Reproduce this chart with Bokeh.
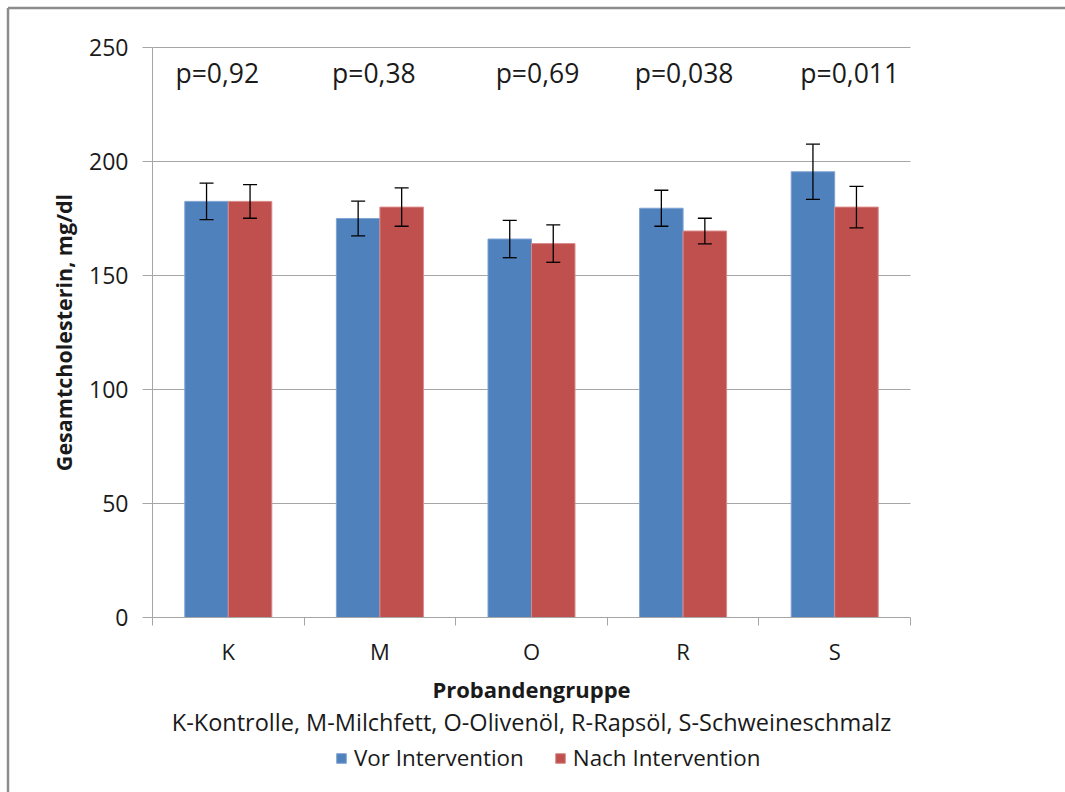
from bokeh.plotting import figure
from bokeh.models import (ColumnDataSource, FixedTicker, Whisker, TeeHead, Legend,
                          LegendItem, Label)
from bokeh.transform import dodge
from bokeh.core.properties import value
from bokeh.embed import file_html
from bokeh.resources import INLINE

# ---- data ----
groups = ["K", "M", "O", "R", "S"]
vor = [182.5, 175.0, 166.0, 179.5, 195.5]
nach = [182.5, 180.0, 164.0, 169.5, 180.0]
vor_sd = [8.0, 7.6, 8.2, 7.9, 12.1]
nach_sd = [7.4, 8.4, 8.2, 5.6, 9.1]
p_values = ["p=0,92", "p=0,38", "p=0,69", "p=0,038", "p=0,011"]
y_ticks = [0, 50, 100, 150, 200, 250]
series_names = ["Vor Intervention", "Nach Intervention"]
x_title = "Probandengruppe"
y_title = "Gesamtcholesterin, mg/dl"
subtitle = "K-Kontrolle, M-Milchfett, O-Olivenöl, R-Rapsöl, S-Schweineschmalz"

# ---- layout (pixels) ----
p_shift = [-11, -6, 6, 1, 15]
W, H = 1065, 792
PX0, PY0 = 152, 617        # page position of the data origin (x=0, y=0)
XS, YS = 151.6, 2.28       # pixels per data unit
FRAME_PX = 7.5             # outer chart frame line position


def px_x(px):
    return (px - PX0) / XS


def px_y(py):
    return (PY0 - py) / YS


FONT = "Open Sans"
BLUE = "#4F81BD"
RED = "#C0504D"
GRID = "#a6a6a6"
TXT = "#1a1a1a"

xc = [i + 0.5 for i in range(len(groups))]
src = ColumnDataSource(dict(
    x=xc, vor=vor, nach=nach,
    vor_lo=[v - s for v, s in zip(vor, vor_sd)], vor_hi=[v + s for v, s in zip(vor, vor_sd)],
    nach_lo=[v - s for v, s in zip(nach, nach_sd)], nach_hi=[v + s for v, s in zip(nach, nach_sd)],
    p=p_values, dx=p_shift,
))

p = figure(width=W, height=H, title=None,
           x_range=(px_x(0), px_x(W)), y_range=(px_y(H), px_y(0)),
           output_backend="svg", toolbar_location=None, min_border=0)
p.styles = {"box-shadow": "none", "border": "none", "outline": "none"}
p.outline_line_color = None
p.background_fill_color = "white"
p.border_fill_color = "white"

# outer chart frame (left and top edges)
p.segment(x0=[px_x(FRAME_PX), px_x(FRAME_PX)], y0=[px_y(FRAME_PX), px_y(FRAME_PX)],
          x1=[px_x(FRAME_PX), px_x(W)], y1=[px_y(H), px_y(FRAME_PX)],
          line_color="#8c8c8c", line_width=2.5)

# horizontal grid lines across the category area
p.segment(x0=[0] * (len(y_ticks) - 1), x1=[len(groups)] * (len(y_ticks) - 1),
          y0=y_ticks[1:], y1=y_ticks[1:], line_color=GRID, line_width=1, level="underlay")

bw = 0.287
r_vor = p.vbar(x=dodge("x", -bw / 2, range=p.x_range), top="vor", width=bw, source=src,
               fill_color=BLUE, line_color="#7FA3D3", line_width=1)
r_nach = p.vbar(x=dodge("x", bw / 2, range=p.x_range), top="nach", width=bw, source=src,
                fill_color=RED, line_color="#D88A88", line_width=1)

for off, lo, hi in [(-bw / 2, "vor_lo", "vor_hi"), (bw / 2, "nach_lo", "nach_hi")]:
    w = Whisker(base=dodge("x", off, range=p.x_range), lower=lo, upper=hi, source=src,
                line_color="black", line_width=1.3, level="overlay",
                lower_head=TeeHead(size=14, line_color="black", line_width=1.3),
                upper_head=TeeHead(size=14, line_color="black", line_width=1.3))
    p.add_layout(w)

p.text(x="x", y=238.6, text="p", x_offset="dx", source=src, text_align="center",
       text_baseline="middle", text_font=value(FONT), text_font_size="26.5px", text_color=TXT)

# y axis at x=0
p.yaxis.fixed_location = 0
p.yaxis.ticker = FixedTicker(ticks=y_ticks)
p.yaxis.bounds = (y_ticks[0], y_ticks[-1])
p.yaxis.axis_line_color = GRID
p.yaxis.major_tick_line_color = GRID
p.yaxis.major_tick_out = 10
p.yaxis.major_tick_in = 0
p.yaxis.minor_tick_line_color = None
p.yaxis.major_label_standoff = 14
p.yaxis.major_label_text_font = FONT
p.yaxis.major_label_text_font_size = "23px"
p.yaxis.major_label_text_color = TXT
p.yaxis.axis_label = y_title
p.yaxis.axis_label_text_font = FONT
p.yaxis.axis_label_text_font_style = "bold"
p.yaxis.axis_label_text_font_size = "21.5px"
p.yaxis.axis_label_text_color = TXT
p.yaxis.axis_label_standoff = 8

# x axis at y=0: labels at centers, ticks at boundaries
p.xaxis.fixed_location = 0
p.xaxis.ticker = FixedTicker(ticks=xc, minor_ticks=list(range(len(groups) + 1)))
p.xaxis.bounds = (0, len(groups))
p.xaxis.major_label_overrides = {x: g for x, g in zip(xc, groups)}
p.xaxis.axis_line_color = GRID
p.xaxis.major_tick_line_color = None
p.xaxis.major_tick_out = 0
p.xaxis.major_tick_in = 0
p.xaxis.minor_tick_line_color = GRID
p.xaxis.minor_tick_out = 8
p.xaxis.minor_tick_in = 0
p.xaxis.major_label_standoff = 10
p.xaxis.major_label_text_font = FONT
p.xaxis.major_label_text_font_size = "22px"
p.xaxis.major_label_text_color = TXT
p.xaxis.axis_label = x_title
p.xaxis.axis_label_text_font = FONT
p.xaxis.axis_label_text_font_style = "bold"
p.xaxis.axis_label_text_font_size = "22px"
p.xaxis.axis_label_text_color = TXT
p.xaxis.axis_label_standoff = 5

p.xgrid.visible = False
p.ygrid.visible = False

p.add_layout(Label(x=len(groups) / 2, y=-46.0, text=subtitle, text_align="center",
                   text_baseline="middle", text_font=FONT, text_font_size="23.5px",
                   text_color=TXT))

legend = Legend(items=[LegendItem(label=series_names[0], renderers=[r_vor]),
                       LegendItem(label=series_names[1], renderers=[r_nach])],
                orientation="horizontal", location=(335, H - 773),
                label_text_font=FONT, label_text_font_size="22.4px", label_text_color=TXT,
                glyph_width=12, glyph_height=12, label_standoff=7, spacing=30,
                border_line_color=None, background_fill_alpha=0, padding=0, margin=0)
p.add_layout(legend, "center")

open("out.html", "w").write(file_html(p, INLINE))
